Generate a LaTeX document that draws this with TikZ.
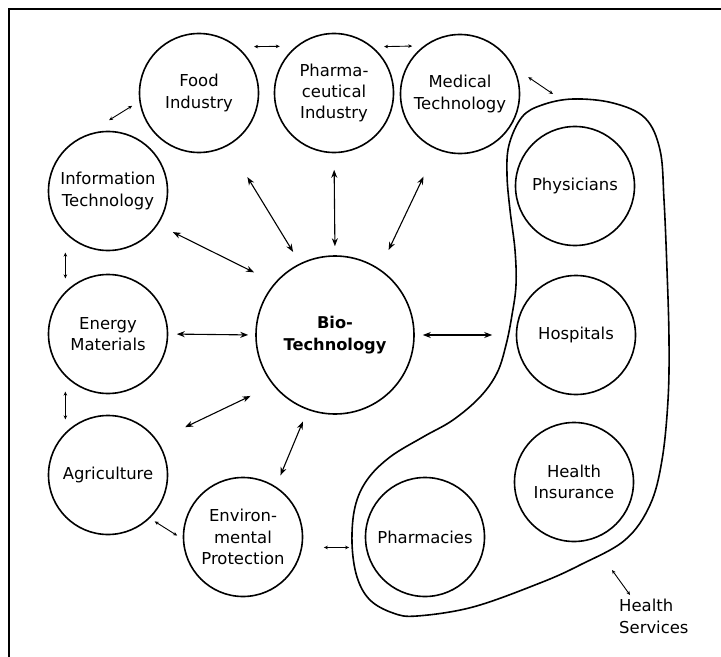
\documentclass[tikz,border=0pt]{standalone}
\usepackage{fontspec}
\setmainfont{DejaVu Sans}
\usetikzlibrary{arrows.meta,calc}
\begin{document}
\begin{tikzpicture}[x=1bp,y=-1bp,
  txt/.style={font=\fontsize{16.5}{21.5}\selectfont},
  circ/.style={circle,draw,line width=1.6bp,minimum size=119bp,inner sep=0pt,align=center,txt},
  bigcirc/.style={circ,minimum size=158bp,font=\bfseries\fontsize{16.3}{21.5}\selectfont},
  sarr/.style={line width=0.9bp,{Stealth[length=4bp,width=3.6bp]}-{Stealth[length=4bp,width=3.6bp]}},
  barr/.style={line width=1.1bp,{Stealth[length=8bp,width=6bp]}-{Stealth[length=8bp,width=6bp]}},
  frame/.style={line width=2.5bp},
  blob/.style={line width=1.6bp}
]
\useasboundingbox (0,0) rectangle (721,657);
\draw[frame] (9,662) -- (9,9) -- (726,9);

\node[circ] (food) at (199,93) {Food\\Industry};
\node[circ] (pharm) at (334,93) {Pharma-\\ceutical\\Industry};
\node[circ] (med) at (460,94) {Medical\\Technology};
\node[circ] (info) at (108,191) {Information\\Technology};
\node[circ] (energy) at (108,334) {Energy\\Materials};
\node[circ] (agri) at (108,475) {Agriculture};
\node[circ] (env) at (243,537) {Environ-\\mental\\Protection};
\node[bigcirc] (bio) at (335,335) {Bio-\\Technology};
\node[circ] (phys) at (575,186) {Physicians};
\node[circ] (hosp) at (576,335) {Hospitals};
\node[circ] (ins) at (574,482) {Health\\Insurance};
\node[circ] (pharmacy) at (425,537) {Pharmacies};
\node[txt,anchor=north west,align=left,inner sep=0pt] (hslabel) at (619,599) {Health\\Services};

\draw[blob] plot[smooth cycle,tension=0.6] coordinates {
 (573,99) (613,103) (645,118) (660,150) (664,200) (667,270) (669,340)
 (668,400) (662,460) (650,505) (625,540) (580,565) (540,583) (473,607)
 (417,616) (393,613) (370,600) (357,577) (352,543) (355,507) (367,480)
 (390,457) (423,437) (453,420) (480,397) (497,373) (506,345) (512,315)
 (516,285) (515,250) (510,210) (507,175) (509,145) (522,117) (542,105)};

\coordinate (hsA) at (553,94);
\coordinate (hsB) at (612,570);

% big arrows to Bio-Technology
\draw[barr,shorten <=36.8bp,shorten >=13.3bp] (food.-61.8) -- (bio.116.8);
\draw[barr,shorten <=16.5bp,shorten >=9bp] (pharm.south) -- (bio.north);
\draw[barr,shorten <=30.1bp,shorten >=20.9bp] (med.247.9) -- (bio.56.9);
\draw[barr,shorten <=16.6bp,shorten >=23.1bp] (info.-34.2) -- (bio.139.6);
\draw[barr,shorten <=8.5bp,shorten >=7bp] (energy.east) -- (bio.west);
\draw[barr,shorten <=8bp,shorten >=23.5bp] (bio.east) -- (hosp.west);
\draw[barr,shorten <=30.7bp,shorten >=24.9bp] (agri.35.8) -- (bio.219.2);
\draw[barr,shorten <=12bp,shorten >=12.5bp] (env.57) -- (bio.250.4);

% small arrows between neighbours
\draw[sarr,shorten <=16.3bp,shorten >=16.3bp] (food.50.7) -- (pharm.129.3);
\draw[sarr,shorten <=11.3bp,shorten >=11.5bp] (pharm.50.7) -- (med.127.8);
\draw[sarr,shorten <=17bp] (med.26) -- (hsA);
\draw[sarr,shorten <=29bp,shorten >=8.4bp] (info.113.4) -- (food.188.3);
\draw[sarr,shorten <=19bp,shorten >=13bp] (info.225) -- (energy.135);
\draw[sarr,shorten <=15bp,shorten >=13bp] (energy.225) -- (agri.135);
\draw[sarr,shorten <=5.7bp,shorten >=6.6bp] (agri.-46.2) -- (env.182.4);
\draw[sarr,shorten <=21.5bp,shorten >=16.5bp] (env.-10.6) -- (pharmacy.190.6);
\draw[sarr] (hsB) -- ($(hslabel.north west)+(11,-4)$);
\end{tikzpicture}
\end{document}
